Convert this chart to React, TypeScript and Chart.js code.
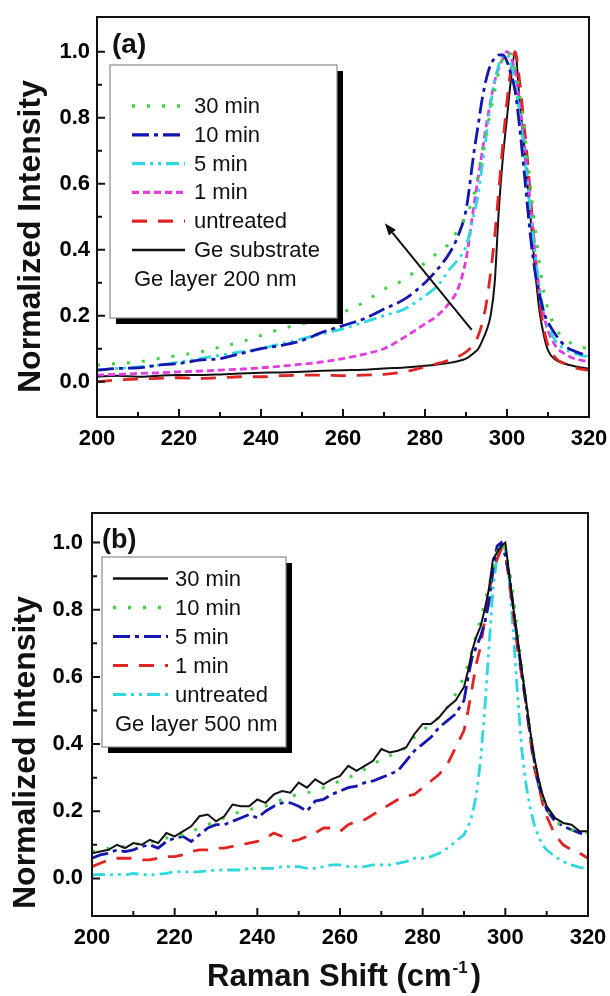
import React, { useEffect, useRef } from "react";
import { Chart, registerables } from "chart.js";

Chart.register(...registerables);

// ---------------- DATA ----------------
// Panel (a): Ge layer 200 nm
const XA = [200, 205, 210, 215, 220, 225, 230, 235, 240, 245, 250, 255, 260, 265, 270, 275, 280,
  283, 286, 288, 290, 292,
  293, 294, 295, 296, 297, 298, 299, 300, 301, 302, 303, 304, 305, 306, 307, 308, 309, 310,
  312, 314, 316, 318, 320];
const A_30MIN = [0.05, 0.055, 0.06, 0.07, 0.08, 0.09, 0.105, 0.12, 0.14, 0.16, 0.175, 0.19, 0.21, 0.24, 0.28, 0.31, 0.36,
  0.39, 0.42, 0.46, 0.5, 0.57,
  0.63, 0.7, 0.76, 0.82, 0.88, 0.94, 0.98, 1.0, 0.99, 0.95, 0.88, 0.79, 0.68, 0.56, 0.45, 0.35, 0.27, 0.22,
  0.16, 0.13, 0.115, 0.105, 0.1];
const A_10MIN = [0.035, 0.04, 0.042, 0.05, 0.055, 0.065, 0.07, 0.085, 0.1, 0.11, 0.125, 0.15, 0.17, 0.19, 0.22, 0.25, 0.3,
  0.34, 0.39, 0.44, 0.52, 0.7,
  0.78, 0.86, 0.92, 0.96, 0.98, 0.99, 0.99, 0.97, 0.93, 0.88, 0.78, 0.66, 0.53, 0.41, 0.32, 0.26, 0.21, 0.18,
  0.14, 0.11, 0.095, 0.085, 0.08];
const A_5MIN = [0.035, 0.04, 0.045, 0.05, 0.06, 0.07, 0.08, 0.09, 0.1, 0.115, 0.13, 0.145, 0.16, 0.18, 0.2, 0.22, 0.26,
  0.29, 0.34, 0.37, 0.41, 0.51,
  0.57, 0.66, 0.75, 0.84, 0.91, 0.96, 0.99, 0.99, 0.96, 0.9, 0.82, 0.72, 0.6, 0.48, 0.37, 0.28, 0.21, 0.17,
  0.12, 0.1, 0.088, 0.08, 0.075];
const A_1MIN = [0.02, 0.022, 0.025, 0.027, 0.03, 0.032, 0.035, 0.038, 0.042, 0.047, 0.053, 0.06, 0.07, 0.083, 0.1, 0.135, 0.175,
  0.2, 0.24, 0.28, 0.37, 0.54,
  0.62, 0.7, 0.78, 0.85, 0.91, 0.95, 0.98, 1.0, 0.98, 0.94, 0.85, 0.75, 0.63, 0.5, 0.37, 0.27, 0.2, 0.155,
  0.105, 0.085, 0.072, 0.065, 0.06];
const A_UNTREATED = [0.0, 0.005, 0.008, 0.01, 0.012, 0.01, 0.012, 0.015, 0.015, 0.018, 0.02, 0.02, 0.018, 0.02, 0.022, 0.03, 0.045,
  0.055, 0.065, 0.075, 0.09, 0.115,
  0.14, 0.18, 0.24, 0.33, 0.44, 0.58, 0.72, 0.85, 0.95, 1.0, 0.92, 0.8, 0.67, 0.52, 0.37, 0.24, 0.16, 0.11,
  0.07, 0.055, 0.045, 0.038, 0.035];
const A_SUBSTRATE = [0.015, 0.018, 0.015, 0.018, 0.02, 0.02, 0.022, 0.025, 0.027, 0.028, 0.03, 0.033, 0.035, 0.036, 0.04, 0.043, 0.048,
  0.052, 0.057, 0.062, 0.07, 0.088,
  0.1, 0.125, 0.155, 0.2, 0.3, 0.52, 0.68, 0.8, 0.92, 1.0, 0.86, 0.74, 0.6, 0.46, 0.32, 0.207, 0.14, 0.095,
  0.065, 0.055, 0.048, 0.043, 0.04];

// Panel (b): Ge layer 500 nm
const XB = [200, 202, 204, 206, 208, 210, 212, 214, 216, 218, 220, 222, 224, 226, 228, 230, 232, 234, 236, 238,
  240, 242, 244, 246, 248, 250, 252, 254, 256, 258, 260, 262, 264, 266, 268, 270, 272, 274, 276, 278,
  280, 282, 284, 286, 288, 290,
  291, 292, 293, 294, 295, 296, 297, 298, 299, 300, 301, 302, 303, 304, 305, 306, 307, 308, 309, 310,
  312, 314, 316, 318, 320];
const B_30MIN = [0.075, 0.08, 0.085, 0.1, 0.09, 0.105, 0.1, 0.115, 0.105, 0.135, 0.125, 0.14, 0.155, 0.185, 0.19, 0.17, 0.185, 0.22, 0.215, 0.215,
  0.235, 0.225, 0.25, 0.26, 0.255, 0.285, 0.27, 0.295, 0.28, 0.295, 0.305, 0.335, 0.32, 0.335, 0.35, 0.385, 0.375, 0.38, 0.39, 0.43,
  0.46, 0.46, 0.48, 0.51, 0.53, 0.57,
  0.62, 0.68, 0.72, 0.75, 0.8, 0.86, 0.95, 0.97, 0.99, 1.0, 0.9, 0.8, 0.71, 0.62, 0.53, 0.44, 0.36, 0.3, 0.25, 0.215,
  0.18, 0.165, 0.16, 0.14, 0.14];
const B_10MIN = [0.08, 0.085, 0.09, 0.095, 0.095, 0.1, 0.105, 0.11, 0.11, 0.12, 0.125, 0.13, 0.14, 0.15, 0.16, 0.17, 0.18, 0.19, 0.2, 0.205,
  0.21, 0.215, 0.225, 0.235, 0.245, 0.25, 0.255, 0.26, 0.27, 0.28, 0.29, 0.3, 0.31, 0.325, 0.34, 0.355, 0.365, 0.375, 0.39, 0.42,
  0.44, 0.46, 0.48, 0.51, 0.55, 0.6,
  0.64, 0.68, 0.73, 0.77, 0.82, 0.87, 0.92, 0.97, 1.0, 0.98, 0.92, 0.83, 0.73, 0.63, 0.53, 0.44, 0.36, 0.29, 0.24, 0.21,
  0.17, 0.155, 0.145, 0.14, 0.135];
const B_5MIN = [0.06, 0.07, 0.075, 0.085, 0.08, 0.085, 0.095, 0.1, 0.09, 0.11, 0.12, 0.125, 0.11, 0.13, 0.15, 0.16, 0.16, 0.17, 0.18, 0.19,
  0.18, 0.2, 0.215, 0.225, 0.225, 0.215, 0.2, 0.23, 0.235, 0.25, 0.26, 0.27, 0.275, 0.285, 0.29, 0.3, 0.31, 0.32, 0.35, 0.38,
  0.4, 0.42, 0.45, 0.47, 0.49, 0.53,
  0.6, 0.66, 0.69, 0.72, 0.76, 0.82, 0.92, 0.99, 1.0, 0.96, 0.9, 0.8, 0.7, 0.61, 0.52, 0.43, 0.35, 0.28, 0.24, 0.205,
  0.17, 0.155, 0.145, 0.135, 0.13];
const B_1MIN = [0.035, 0.045, 0.055, 0.06, 0.06, 0.06, 0.055, 0.055, 0.06, 0.065, 0.065, 0.07, 0.08, 0.085, 0.085, 0.09, 0.09, 0.095, 0.1, 0.105,
  0.11, 0.12, 0.135, 0.125, 0.11, 0.115, 0.125, 0.135, 0.15, 0.15, 0.14, 0.16, 0.17, 0.175, 0.19, 0.205, 0.22, 0.235, 0.245, 0.25,
  0.27, 0.29, 0.31, 0.34, 0.39, 0.44,
  0.5, 0.57, 0.64, 0.69, 0.77, 0.85, 0.91, 0.95, 0.98, 0.97, 0.88, 0.78, 0.68, 0.6, 0.52, 0.42, 0.33, 0.28, 0.225, 0.185,
  0.13, 0.1, 0.085, 0.075, 0.06];
const B_UNTREATED = [0.01, 0.012, 0.01, 0.012, 0.01, 0.015, 0.012, 0.01, 0.012, 0.015, 0.02, 0.02, 0.018, 0.02, 0.022, 0.025, 0.025, 0.025, 0.025, 0.03,
  0.03, 0.03, 0.03, 0.035, 0.035, 0.035, 0.03, 0.03, 0.035, 0.04, 0.04, 0.035, 0.035, 0.035, 0.04, 0.04, 0.04, 0.045, 0.05, 0.06,
  0.06, 0.065, 0.075, 0.09, 0.11, 0.13,
  0.155, 0.19, 0.25, 0.35, 0.5, 0.68, 0.86, 0.96, 1.0, 0.98, 0.88, 0.72, 0.54, 0.38, 0.28, 0.21, 0.16, 0.125, 0.1, 0.085,
  0.065, 0.05, 0.04, 0.033, 0.028];

const X_TICKS = [200, 220, 240, 260, 280, 300, 320];
const X_MINOR = [210, 230, 250, 270, 290, 310];
const Y_TICKS = [0, 0.2, 0.4, 0.6, 0.8, 1.0];
const Y_MINOR = [0.1, 0.3, 0.5, 0.7, 0.9];

const LABELS_A = ["30 min", "10 min", "5 min", "1 min", "untreated", "Ge substrate"];
const LABELS_B = ["30 min", "10 min", "5 min", "1 min", "untreated"];
const NOTE_A = "Ge layer 200 nm";
const NOTE_B = "Ge layer 500 nm";
const Y_TITLE = "Normalized Intensity";
const X_TITLE = "Raman Shift (cm";
const X_TITLE_SUP = "-1";
const X_TITLE_END = ")";
const ARROW_A = { from: [291.4, 0.157], to: [270.2, 0.48] };

// ---------------- STYLES ----------------
const FONT = "'Liberation Sans', Arial, Helvetica, sans-serif";
const GREEN = "#3fd23f";
const BLUE = "#1515b0";
const CYAN = "#2fd8e0";
const MAGENTA = "#e03ce0";
const RED = "#e02424";
const BLACK = "#111111";

const S_DOT = { color: GREEN, dash: [3, 12], width: 3 };
const S_DASHDOT = { color: BLUE, dash: [17, 5, 4, 5], width: 2.8 };
const S_DASHDOTDOT = { color: CYAN, dash: [13, 5, 3, 5, 3, 5], width: 2.8 };
const S_SHORTDASH = { color: MAGENTA, dash: [7, 4], width: 2.8 };
const S_LONGDASH = { color: RED, dash: [15, 11], width: 2.8 };
const S_SOLID = { color: BLACK, dash: [] as number[], width: 2 };

type Style = { color: string; dash: number[]; width: number };

interface Panel {
  width: number;
  height: number;
  top: number;
  padTop: number;
  padRight: number;
  yWidth: number;
  xHeight: number;
  yMin: number;
  yMax: number;
  xs: number[];
  series: number[][];
  labels: string[];
  styles: Style[];
  smooth: boolean;
  note: string;
  legend: { box: number[]; row0: number; dy: number; sx: number[]; tx: number; nx: number };
  panelLabel: string;
  panelPos: number[];
  panelSize: number;
  yTitlePos: number[];
  xTitle: boolean;
  xTitlePos: number[];
  arrow: { from: number[]; to: number[] } | null;
  yPad: number;
  xPad: number;
}

const PANEL_A: Panel = {
  width: 610, height: 470, top: 0,
  padTop: 17, padRight: 21, yWidth: 97, xHeight: 53,
  yMin: -0.107, yMax: 1.105,
  xs: XA,
  series: [A_30MIN, A_10MIN, A_5MIN, A_1MIN, A_UNTREATED, A_SUBSTRATE],
  labels: LABELS_A,
  styles: [S_DOT, S_DASHDOT, S_DASHDOTDOT, S_SHORTDASH, S_LONGDASH, S_SOLID],
  smooth: true,
  note: NOTE_A,
  legend: { box: [110, 65, 227, 253], row0: 106, dy: 28.8, sx: [132, 185], tx: 194, nx: 134 },
  panelLabel: "(a)", panelPos: [112, 52.5], panelSize: 28,
  yTitlePos: [40, 393],
  xTitle: false, xTitlePos: [0, 0],
  arrow: ARROW_A,
  yPad: 7, xPad: 9,
};

const PANEL_B: Panel = {
  width: 610, height: 516, top: 480,
  padTop: 33, padRight: 22, yWidth: 92, xHeight: 80,
  yMin: -0.112, yMax: 1.088,
  xs: XB,
  series: [B_30MIN, B_10MIN, B_5MIN, B_1MIN, B_UNTREATED],
  labels: LABELS_B,
  styles: [S_SOLID, S_DOT, S_DASHDOT, S_LONGDASH, S_DASHDOTDOT],
  smooth: false,
  note: NOTE_B,
  legend: { box: [102, 77, 184, 190], row0: 98.5, dy: 29, sx: [113, 168], tx: 175, nx: 115 },
  panelLabel: "(b)", panelPos: [102, 67.5], panelSize: 27,
  yTitlePos: [35, 429],
  xTitle: true, xTitlePos: [207, 506],
  arrow: null,
  yPad: 9, xPad: 9,
};

function makePlugin(p: Panel) {
  return {
    id: "panelDecor",
    afterDraw(chart: any) {
      const { ctx, chartArea: ca, scales } = chart;
      const xs = scales.x;
      const ys = scales.y;
      ctx.save();

      // arrow
      if (p.arrow) {
        const x1 = xs.getPixelForValue(p.arrow.from[0]);
        const y1 = ys.getPixelForValue(p.arrow.from[1]);
        const x2 = xs.getPixelForValue(p.arrow.to[0]);
        const y2 = ys.getPixelForValue(p.arrow.to[1]);
        const ang = Math.atan2(y2 - y1, x2 - x1);
        const hl = 12, hw = 4.5;
        const bx = x2 - hl * Math.cos(ang);
        const by = y2 - hl * Math.sin(ang);
        ctx.strokeStyle = BLACK;
        ctx.lineWidth = 2;
        ctx.setLineDash([]);
        ctx.beginPath();
        ctx.moveTo(x1, y1);
        ctx.lineTo(bx, by);
        ctx.stroke();
        ctx.fillStyle = BLACK;
        ctx.beginPath();
        ctx.moveTo(x2, y2);
        ctx.lineTo(bx + hw * Math.sin(ang), by - hw * Math.cos(ang));
        ctx.lineTo(bx - hw * Math.sin(ang), by + hw * Math.cos(ang));
        ctx.closePath();
        ctx.fill();
      }

      // frame
      ctx.setLineDash([]);
      ctx.strokeStyle = BLACK;
      ctx.lineWidth = 2;
      ctx.strokeRect(ca.left, ca.top, ca.right - ca.left, ca.bottom - ca.top);

      // inward ticks
      ctx.lineWidth = 2;
      ctx.beginPath();
      X_TICKS.forEach((v) => {
        const x = xs.getPixelForValue(v);
        ctx.moveTo(x, ca.bottom);
        ctx.lineTo(x, ca.bottom - 8);
      });
      X_MINOR.forEach((v) => {
        const x = xs.getPixelForValue(v);
        ctx.moveTo(x, ca.bottom);
        ctx.lineTo(x, ca.bottom - 5);
      });
      Y_TICKS.forEach((v) => {
        const y = ys.getPixelForValue(v);
        ctx.moveTo(ca.left, y);
        ctx.lineTo(ca.left + 8, y);
      });
      Y_MINOR.forEach((v) => {
        const y = ys.getPixelForValue(v);
        ctx.moveTo(ca.left, y);
        ctx.lineTo(ca.left + 5, y);
      });
      ctx.stroke();

      // legend box with shadow
      const [bx0, by0, bw, bh] = p.legend.box;
      ctx.fillStyle = "#000";
      ctx.fillRect(bx0 + 6, by0 + 6, bw, bh);
      ctx.fillStyle = "#fff";
      ctx.fillRect(bx0, by0, bw, bh);
      ctx.strokeStyle = "#8a8a8a";
      ctx.lineWidth = 1.2;
      ctx.strokeRect(bx0, by0, bw, bh);

      ctx.font = `22px ${FONT}`;
      ctx.textBaseline = "middle";
      ctx.textAlign = "left";
      p.labels.forEach((lab, i) => {
        const y = p.legend.row0 + i * p.legend.dy;
        const st = p.styles[i];
        ctx.strokeStyle = st.color;
        ctx.lineWidth = st.width + 0.4;
        ctx.setLineDash(st.dash);
        ctx.beginPath();
        ctx.moveTo(p.legend.sx[0], y);
        ctx.lineTo(p.legend.sx[1], y);
        ctx.stroke();
        ctx.setLineDash([]);
        ctx.fillStyle = BLACK;
        ctx.fillText(lab, p.legend.tx, y + 1);
      });
      ctx.fillStyle = BLACK;
      ctx.fillText(p.note, p.legend.nx, p.legend.row0 + p.labels.length * p.legend.dy + 1);

      // panel label
      ctx.font = `bold ${p.panelSize}px ${FONT}`;
      ctx.textBaseline = "alphabetic";
      ctx.fillText(p.panelLabel, p.panelPos[0], p.panelPos[1]);

      // y title
      ctx.save();
      ctx.translate(p.yTitlePos[0], p.yTitlePos[1]);
      ctx.rotate(-Math.PI / 2);
      ctx.font = `bold 32px ${FONT}`;
      ctx.textAlign = "left";
      ctx.textBaseline = "alphabetic";
      ctx.fillText(Y_TITLE, 0, 0);
      ctx.restore();

      // x title
      if (p.xTitle) {
        let x = p.xTitlePos[0];
        const yb = p.xTitlePos[1];
        ctx.font = `bold 31px ${FONT}`;
        ctx.textAlign = "left";
        ctx.fillText(X_TITLE, x, yb);
        x += ctx.measureText(X_TITLE).width + 1;
        ctx.font = `bold 17px ${FONT}`;
        ctx.fillText(X_TITLE_SUP, x, yb - 13);
        x += ctx.measureText(X_TITLE_SUP).width + 3;
        ctx.font = `bold 31px ${FONT}`;
        ctx.fillText(X_TITLE_END, x, yb);
      }
      ctx.restore();
    },
  };
}

function PanelChart({ p }: { p: Panel }) {
  const ref = useRef<HTMLCanvasElement | null>(null);
  useEffect(() => {
    if (!ref.current) return;
    const datasets = p.series.map((ys, i) => ({
      label: p.labels[i],
      data: p.xs.map((x, j) => ({ x, y: ys[j] })),
      borderColor: p.styles[i].color,
      borderWidth: p.styles[i].width,
      borderDash: p.styles[i].dash,
      borderCapStyle: "butt" as const,
      pointRadius: 0,
      fill: false,
      tension: 0,
      cubicInterpolationMode: p.smooth ? ("monotone" as const) : ("default" as const),
    }));
    const tickFont = { family: FONT, size: 22, weight: "bold" as const };
    const chart = new Chart(ref.current, {
      type: "line",
      data: { datasets },
      options: {
        animation: false,
        responsive: false,
        devicePixelRatio: 1,
        events: [],
        layout: { padding: { top: p.padTop, right: p.padRight, left: 0, bottom: 0 } },
        plugins: { legend: { display: false }, tooltip: { enabled: false } },
        scales: {
          x: {
            type: "linear",
            min: 200,
            max: 320,
            afterFit: (s: any) => {
              s.height = p.xHeight;
              s.paddingLeft = 0;
              s.paddingRight = 0;
            },
            afterBuildTicks: (s: any) => { s.ticks = X_TICKS.map((v) => ({ value: v })); },
            grid: { display: false, drawTicks: false },
            border: { display: false },
            ticks: {
              font: tickFont,
              color: "#000",
              padding: p.xPad,
              maxRotation: 0,
              autoSkip: false,
              callback: (v: any) => String(v),
            },
          },
          y: {
            type: "linear",
            min: p.yMin,
            max: p.yMax,
            afterFit: (s: any) => {
              s.width = p.yWidth;
              s.paddingTop = 0;
              s.paddingBottom = 0;
            },
            afterBuildTicks: (s: any) => { s.ticks = Y_TICKS.map((v) => ({ value: v })); },
            grid: { display: false, drawTicks: false },
            border: { display: false },
            ticks: {
              font: tickFont,
              color: "#000",
              padding: p.yPad,
              autoSkip: false,
              callback: (v: any) => Number(v).toFixed(1),
            },
          },
        },
      },
      plugins: [makePlugin(p)],
    });
    return () => chart.destroy();
  }, [p]);
  return (
    <canvas
      ref={ref}
      width={p.width}
      height={p.height}
      style={{ position: "absolute", left: 0, top: p.top, width: p.width, height: p.height }}
    />
  );
}

export default function App() {
  return (
    <div style={{ position: "absolute", left: 0, top: 0, width: 610, height: 996, background: "#fff", overflow: "hidden" }}>
      <PanelChart p={PANEL_A} />
      <PanelChart p={PANEL_B} />
    </div>
  );
}
